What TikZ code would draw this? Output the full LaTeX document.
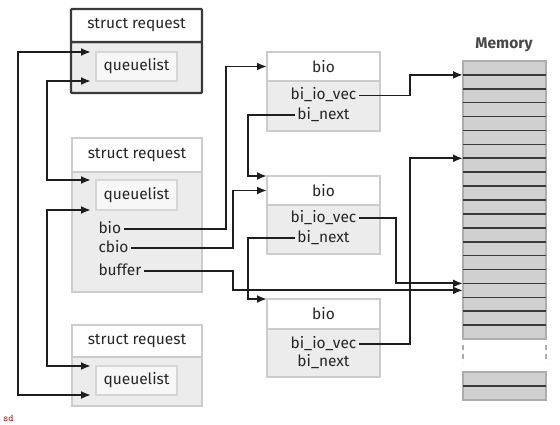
\documentclass[tikz,border=0pt]{standalone}
\usepackage{fontspec}
\setmainfont{Fira Sans}
\usetikzlibrary{arrows.meta}
\definecolor{lineclr}{HTML}{1E1E1E}
\definecolor{boxline}{HTML}{CCCCCC}
\definecolor{bodyfill}{HTML}{ECECEC}
\definecolor{cellfill}{HTML}{D0D0D0}
\definecolor{darkbox}{HTML}{3A3A3A}
\tikzset{
  txt/.style={font=\fontsize{15.5}{15.5}\selectfont, text=black!85},
  hdr/.style={txt, draw=boxline, fill=white, line width=1.3pt, inner sep=0pt, outer sep=0pt, anchor=north west},
  bodyb/.style={draw=boxline, fill=bodyfill, line width=1.3pt, inner sep=0pt, outer sep=0pt, anchor=north west},
  qbox/.style={txt, draw=boxline!80, fill=white!97!black, line width=1.3pt, inner sep=0pt, outer sep=0pt, anchor=north west},
  darkedge/.style={draw=darkbox, line width=2.4pt, rounded corners=1pt},
  lab/.style={txt, inner sep=0pt, outer sep=2.5pt, text height=9pt, text depth=0pt},
  conn/.style={draw=lineclr, line width=1.9pt},
  arr/.style={-{Latex[length=10pt,width=8pt]}},
  barr/.style={{Latex[length=10pt,width=8pt]}-{Latex[length=10pt,width=8pt]}},
  cell/.style={draw=gray!65, fill=cellfill, line width=1.4pt, minimum width=83, minimum height=13.9, inner sep=0pt, outer sep=0pt, anchor=north west},
  sep/.style={draw=darkbox, line width=1.6pt},
}
\begin{document}
\begin{tikzpicture}[x=1pt,y=-1pt]
\useasboundingbox (0,0) rectangle (560,425);

% struct request 1 (highlighted)
\node[bodyb, darkedge, minimum width=131, minimum height=51] (r1b) at (71,42) {};
\node[hdr, darkedge, minimum width=131, minimum height=33] (r1h) at (71,9) {struct request};
\node[qbox, minimum width=81, minimum height=29] (q1) at (96,52) {queuelist};

% struct request 2
\node[bodyb, minimum width=130, minimum height=120] (r2b) at (72,172) {};
\node[hdr, minimum width=130, minimum height=34] (r2h) at (72,138) {struct request};
\node[qbox, minimum width=81, minimum height=30] (q2) at (96,180) {queuelist};
\node[lab, anchor=west] (biotxt) at (96,229) {bio};
\node[lab, anchor=west] (cbiotxt) at (96,248) {cbio};
\node[lab, anchor=west] (buftxt) at (96,271) {buffer};

% struct request 3
\node[bodyb, minimum width=130, minimum height=49] (r3b) at (72,357) {};
\node[hdr, minimum width=130, minimum height=32] (r3h) at (72,325) {struct request};
\node[qbox, minimum width=81, minimum height=29] (q3) at (96,366) {queuelist};

% bio boxes
\node[bodyb, minimum width=113, minimum height=50] (b1b) at (267,81) {};
\node[hdr, minimum width=113, minimum height=29] (b1h) at (267,52) {bio};
\node[lab] (iov1) at (323.5,95.5) {bi\_io\_vec};
\node[lab] (nx1) at (323.5,115) {bi\_next};

\node[bodyb, minimum width=113, minimum height=49] (b2b) at (267,205) {};
\node[hdr, minimum width=113, minimum height=29] (b2h) at (267,176) {bio};
\node[lab] (iov2) at (323.5,218) {bi\_io\_vec};
\node[lab] (nx2) at (323.5,238) {bi\_next};

\node[bodyb, minimum width=113, minimum height=48] (b3b) at (267,329) {};
\node[hdr, minimum width=113, minimum height=30] (b3h) at (267,299) {bio};
\node[lab] (iov3) at (323.5,344) {bi\_io\_vec};
\node[lab] (nx3) at (323.5,362) {bi\_next};

% memory
\node[txt, font=\fontsize{15.5}{15.5}\selectfont\bfseries, text=black!72] (memlbl) at (504,45) {Memory};
\foreach \i in {0,...,19} {
  \node[cell] (c\i) at (463,{61+13.9*\i}) {};
}
\foreach \i in {1,...,19} {
  \draw[sep] (c\i.north west) -- (c\i.north east);
}
\node[cell] (d1) at (463,372) {};
\node[cell] (d2) at (463,385.9) {};
\draw[sep] (d2.north west) -- (d2.north east);
\draw[gray!65, line width=1.4pt, dash pattern=on 5pt off 4pt] ([yshift=-6pt]c19.south west) -- ++(0,18);
\draw[gray!65, line width=1.4pt, dash pattern=on 5pt off 4pt] ([yshift=-6pt]c19.south east) -- ++(0,18);

% helper x positions for vertical runs
\coordinate (xouter) at (18,0);
\coordinate (xinner) at (47,0);
\coordinate (xbio) at (226,0);
\coordinate (xcbio) at (233,0);
\coordinate (xnext) at (248,0);
\coordinate (xvecA) at (410,0);
\coordinate (xvecB) at (396,0);

% queuelist links
\draw[conn, barr, shorten <=5pt, shorten >=5pt] (q1.north west) -- (q1.north west -| xouter) |- (q3.south west);
\draw[conn, barr, shorten <=5pt, shorten >=5pt] (q1.south west) -- (q1.south west -| xinner) |- (q2.north west);
\draw[conn, barr, shorten <=5pt, shorten >=5pt] (q2.south west) -- (q2.south west -| xinner) |- (q3.north west);

% request -> bio / memory
\draw[conn, arr] (biotxt.east) -- (biotxt.east -| xbio) |- (b1h.west);
\draw[conn, arr] (cbiotxt.east) -- (cbiotxt.east -| xcbio) |- (b2h.west);
\draw[conn, arr] (buftxt.east) -- (buftxt.east -| xcbio) |- (c16.west);

% bi_next chain
\draw[conn, arr] (nx1.west) -- (nx1.west -| xnext) |- (b2h.north west);
\draw[conn, arr] (nx2.west) -- (nx2.west -| xnext) |- (b3h.north west);

% bi_io_vec -> memory
\draw[conn, arr] (iov1.east) -- (iov1.east -| xvecA) |- (c1.north west);
\draw[conn, arr] (iov2.east) -- (iov2.east -| xvecB) |- (c16.north west);
\draw[conn, arr] (iov3.east) -- (iov3.east -| xvecA) |- (c7.north west);

\node[anchor=west, inner sep=0pt, text=red!70!black, font=\ttfamily\fontsize{10}{10}\selectfont] (sd) at (3,418) {sd};
\end{tikzpicture}
\end{document}
